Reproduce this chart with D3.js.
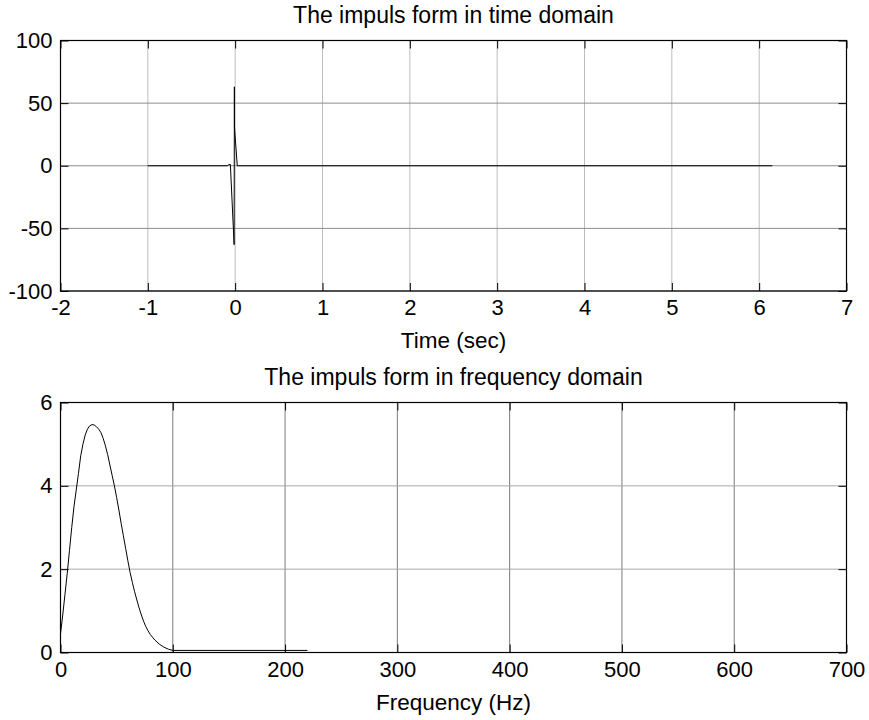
<!DOCTYPE html>
<html>
<head>
<meta charset="utf-8">
<script src="https://cdn.jsdelivr.net/npm/d3@7"></script>
<style>
  body { margin: 0; background: #fff; }
  svg { display: block; }
</style>
</head>
<body>
<div id="chart"></div>
<script>
// impulse in time domain (sec, amplitude)
const timeVals = [-1, -0.09, -0.07, -0.055, -0.012, -0.009, -0.008, 0.024, 6.15];
const ampVals  = [0, 0, 1, 1, -63, 63, 31, 0, 0];

// impulse spectrum (Hz, magnitude)
const freqVals = [0, 2, 4, 6, 8, 10, 12, 14, 16, 18, 20, 22, 24, 26, 28, 30, 32, 34, 36, 38,
                  40, 42, 44, 46, 48, 50, 52, 54, 56, 58, 60, 62, 64, 66, 68, 70, 72, 74, 76,
                  78, 80, 84, 88, 92, 96, 100, 220];
const magVals  = [0.45, 0.9, 1.4, 1.9, 2.45, 3.0, 3.5, 3.9, 4.3, 4.72, 5.0, 5.22, 5.36, 5.44,
                  5.47, 5.46, 5.42, 5.36, 5.28, 5.14, 4.96, 4.75, 4.5, 4.25, 4.0, 3.72, 3.42,
                  3.1, 2.8, 2.5, 2.2, 1.92, 1.68, 1.46, 1.26, 1.07, 0.9, 0.75, 0.62, 0.52,
                  0.43, 0.3, 0.2, 0.13, 0.08, 0.05, 0.05];

const timeTicks = [-2, -1, 0, 1, 2, 3, 4, 5, 6, 7];
const ampTicks  = [-100, -50, 0, 50, 100];
const freqTicks = [0, 100, 200, 300, 400, 500, 600, 700];
const magTicks  = [0, 2, 4, 6];

const W = 869, H = 720;
const left = 60.5, right = 846.5;
const font = "'Liberation Sans', Arial, sans-serif";

const svg = d3.select("#chart").append("svg")
  .attr("width", W).attr("height", H);

function panel(p) {
  const x = d3.scaleLinear().domain(p.xDomain).range([left, right]);
  const y = d3.scaleLinear().domain(p.yDomain).range([p.bottom, p.top]);
  const g = svg.append("g");

  // grid
  g.selectAll(".vg").data(p.xTicks).enter().append("line")
    .attr("x1", d => x(d)).attr("x2", d => x(d))
    .attr("y1", p.top).attr("y2", p.bottom)
    .attr("stroke", p.vGrid).attr("stroke-width", 1);
  g.selectAll(".hg").data(p.yTicks).enter().append("line")
    .attr("x1", left).attr("x2", right)
    .attr("y1", d => y(d)).attr("y2", d => y(d))
    .attr("stroke", p.hGrid).attr("stroke-width", 1);

  // data line
  g.append("path")
    .datum(d3.zip(p.xs, p.ys))
    .attr("fill", "none")
    .attr("stroke", "#000")
    .attr("stroke-width", 1)
    .attr("d", d3.line().x(d => x(d[0])).y(d => y(d[1])));

  // axes, ticks pointing inward, plain hyphen minus like matlab
  const fmt = d => String(d);
  const styleAxis = sel => {
    sel.select(".domain").remove();
    sel.selectAll("line").attr("stroke", "#000");
    sel.attr("font-family", font).attr("font-size", 22);
    sel.selectAll("text").attr("fill", "#000");
  };
  g.append("g").attr("transform", `translate(0,${p.bottom})`)
    .call(d3.axisBottom(x).tickValues(p.xTicks).tickFormat(fmt).tickSize(-8).tickPadding(8.5))
    .call(styleAxis);
  g.append("g").attr("transform", `translate(0,${p.top})`)
    .call(d3.axisTop(x).tickValues(p.xTicks).tickSize(-8).tickFormat(""))
    .call(styleAxis);
  g.append("g").attr("transform", `translate(${left},0)`)
    .call(d3.axisLeft(y).tickValues(p.yTicks).tickFormat(fmt).tickSize(-8).tickPadding(8))
    .call(styleAxis);
  g.append("g").attr("transform", `translate(${right},0)`)
    .call(d3.axisRight(y).tickValues(p.yTicks).tickSize(-8).tickFormat(""))
    .call(styleAxis);

  // box
  g.append("rect")
    .attr("x", left).attr("y", p.top)
    .attr("width", right - left).attr("height", p.bottom - p.top)
    .attr("fill", "none").attr("stroke", "#000").attr("stroke-width", 1.2);

  // title + x label
  g.append("text")
    .attr("x", (left + right) / 2).attr("y", p.top - 17.5)
    .attr("text-anchor", "middle")
    .attr("font-family", font).attr("font-size", 23)
    .text(p.title);
  g.append("text")
    .attr("x", (left + right) / 2).attr("y", p.bottom + 57)
    .attr("text-anchor", "middle")
    .attr("font-family", font).attr("font-size", 22.5)
    .text(p.xLabel);
}

panel({
  top: 40.5, bottom: 291,
  xDomain: [-2, 7], yDomain: [-100, 100],
  xTicks: timeTicks, yTicks: ampTicks,
  xs: timeVals, ys: ampVals,
  vGrid: "#bdbdbd", hGrid: "#8c8c8c",
  title: "The impuls form in time domain",
  xLabel: "Time (sec)"
});

panel({
  top: 402.5, bottom: 652.5,
  xDomain: [0, 700], yDomain: [0, 6],
  xTicks: freqTicks, yTicks: magTicks,
  xs: freqVals, ys: magVals,
  vGrid: "#7c7c7c", hGrid: "#a8a8a8",
  title: "The impuls form in frequency domain",
  xLabel: "Frequency (Hz)"
});
</script>
</body>
</html>
